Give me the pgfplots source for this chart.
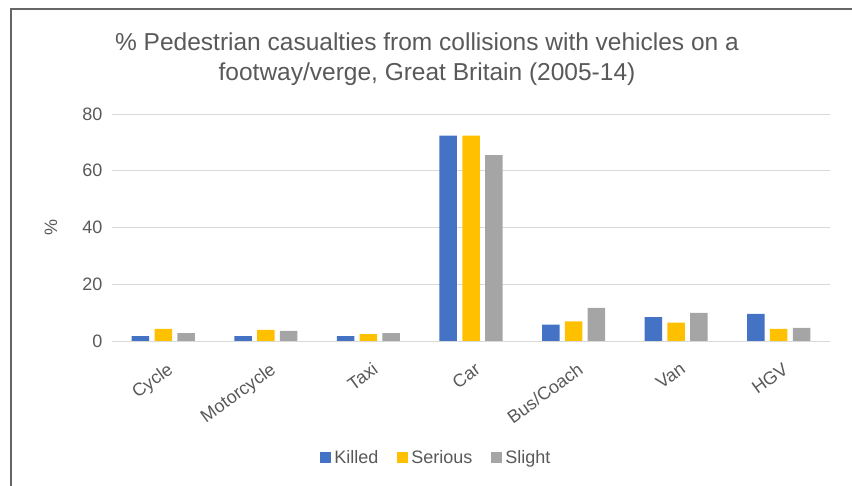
\documentclass[border=0pt]{standalone}
\usepackage{pgfplots}
\pgfplotsset{compat=1.18}
\usepackage{fontspec}
\setmainfont{Liberation Sans}
\definecolor{killed}{HTML}{4472C4}
\definecolor{serious}{HTML}{FFC000}
\definecolor{slight}{HTML}{A5A5A5}
\definecolor{txt}{HTML}{595959}
\definecolor{gridc}{HTML}{D9D9D9}
\begin{document}
\begin{tikzpicture}[x=1pt,y=1pt]
\path[use as bounding box] (0,0) rectangle (852,486);
\draw[color=gray!80!black, line width=1.4pt] (11,0) -- (11,477) -- (852,477);
\begin{axis}[
  at={(112pt,145pt)}, anchor=south west,
  scale only axis, width=718pt, height=227pt,
  xmin=-0.5, xmax=6.5, ymin=0, ymax=80,
  ytick={0,20,40,60,80},
  xtick={0,1,2,3,4,5,6},
  xticklabels={Cycle,Motorcycle,Taxi,Car,Bus/Coach,Van,HGV},
  axis line style={draw=none},
  tick style={draw=none},
  ymajorgrids=true, xmajorgrids=false,
  major grid style={draw=gridc, line width=0.9pt},
  /pgf/number format/assume math mode=true,
  ticklabel style={font=\fontsize{18}{21}\selectfont, text=txt},
  yticklabel style={xshift=-6pt},
  xticklabel style={rotate=36, anchor=north east, inner sep=1pt, xshift=-6pt, yshift=-14pt},
  ylabel={\%},
  ylabel style={at={(axis description cs:-0.085,0.5)}, anchor=center, font=\fontsize{18}{21}\selectfont, text=txt},
  ybar=0pt, bar width=17.5pt,
  legend style={at={(0.4526,-0.515)}, anchor=center, legend columns=-1, draw=none,
    font=\fontsize{18}{21}\selectfont, text=txt,
    /tikz/every even column/.append style={column sep=16pt},
    /tikz/every odd column/.append style={column sep=0pt},
    nodes={inner xsep=3pt}},
  legend image code/.code={\fill[#1] (0pt,-5.5pt) rectangle (11pt,5.5pt);},
]
\addplot[fill=killed, draw=none, bar shift=-22.8pt] coordinates {(0,1.7) (1,1.7) (2,1.7) (3,72.4) (4,5.8) (5,8.4) (6,9.6)};
\addplot[fill=serious, draw=none, bar shift=0pt] coordinates {(0,4.3) (1,3.9) (2,2.4) (3,72.4) (4,6.9) (5,6.5) (6,4.3)};
\addplot[fill=slight, draw=none, bar shift=22.8pt] coordinates {(0,2.8) (1,3.6) (2,2.8) (3,65.5) (4,11.7) (5,9.9) (6,4.6)};
\addplot[draw=gridc, line width=0.9pt, forget plot, sharp plot] coordinates {(-0.5,0) (6.5,0)};
\legend{Killed,Serious,Slight}
\end{axis}
\node[align=center, text=txt, font=\fontsize{24.5}{30}\selectfont] at (427,427)
  {\% Pedestrian casualties from collisions with vehicles on a\\footway/verge, Great Britain (2005-14)};
\end{tikzpicture}
\end{document}
